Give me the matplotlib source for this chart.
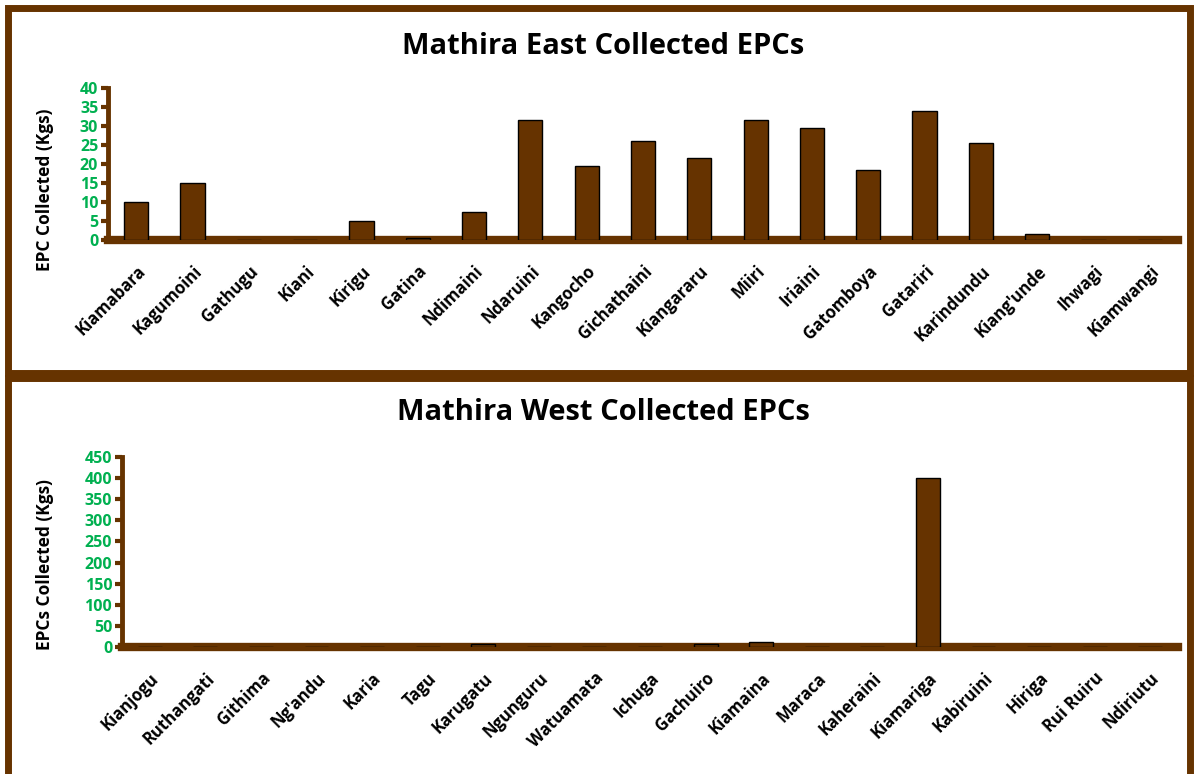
import matplotlib
matplotlib.use("Agg")
import matplotlib.pyplot as plt
from matplotlib.patches import Rectangle

east_wards = ["Kiamabara", "Kagumoini", "Gathugu", "Kiani", "Kirigu", "Gatina",
              "Ndimaini", "Ndaruini", "Kangocho", "Gichathaini", "Kiangararu",
              "Miiri", "Iriaini", "Gatomboya", "Gatariri", "Karindundu",
              "Kiang'unde", "Ihwagi", "Kiamwangi"]
east_kgs = [10, 15, 0, 0, 5, 0.5, 7.5, 31.5, 19.5, 26, 21.5, 31.5, 29.5, 18.5,
            34, 25.5, 1.5, 0, 0]

west_wards = ["Kianjogu", "Ruthangati", "Githima", "Ng'andu", "Karia", "Tagu",
              "Karugatu", "Ngunguru", "Watuamata", "Ichuga", "Gachuiro",
              "Kiamaina", "Maraca", "Kaheraini", "Kiamariga", "Kabiruini",
              "Hiriga", "Rui Ruiru", "Ndiriutu"]
west_kgs = [0, 0, 0, 0, 0, 0, 6, 0, 0, 0, 6, 12, 0, 0, 400, 0, 0, 0, 0]

east_yticks = list(range(0, 45, 5))
west_yticks = list(range(0, 500, 50))

BROWN = "#663300"
GREEN = "#00B050"
FONT = ["Open Sans", "DejaVu Sans"]

W, H = 1194, 774
fig = plt.figure(figsize=(W / 100, H / 100), dpi=100)
fig.patch.set_facecolor("white")


def px_axes(left, top, right, bottom):
    return fig.add_axes([left / W, 1 - bottom / H, (right - left) / W, (bottom - top) / H])


# panel frames
for (x0, y0, x1, y1) in [(8, 8, 1190, 373), (8, 378, 1190, 780)]:
    fig.patches.append(Rectangle((x0 / W, 1 - y1 / H), (x1 - x0) / W, (y1 - y0) / H,
                                 transform=fig.transFigure, fill=False,
                                 edgecolor=BROWN, linewidth=5, zorder=0))


def draw_panel(ax, names, values, ticks, title, ylabel, title_y, ylabel_y):
    x = range(len(names))
    ax.bar(x, values, width=0.43, color=BROWN, edgecolor="black", linewidth=1.0, zorder=3)
    ax.set_xlim(-0.5, len(names) - 0.5)
    ax.set_ylim(0, ticks[-1])
    ax.set_yticks(ticks)
    ax.set_yticklabels([str(t) for t in ticks], color=GREEN, fontweight="bold",
                       fontsize=11.5, family=FONT)
    ax.set_xticks(list(x))
    ax.set_xticklabels(names, rotation=45, ha="right", rotation_mode="anchor",
                       fontweight="bold", fontsize=12, family=FONT)
    ax.tick_params(axis="x", length=0, pad=16)
    ax.tick_params(axis="y", length=5, width=3, color=BROWN, pad=2)
    for s in ("top", "right"):
        ax.spines[s].set_visible(False)
    ax.spines["left"].set_color(BROWN)
    ax.spines["left"].set_linewidth(3.5)
    ax.spines["bottom"].set_color(BROWN)
    ax.spines["bottom"].set_linewidth(6)
    ax.patch.set_alpha(0)
    fig.text(0.505, 1 - title_y / H, title, ha="center", va="center",
             fontsize=21, fontweight="bold", family=FONT)
    fig.text(45 / W, 1 - ylabel_y / H, ylabel, ha="center", va="center",
             rotation=90, fontsize=12.5, fontweight="bold", family=FONT)


ax1 = px_axes(108, 88, 1178, 240)
draw_panel(ax1, east_wards, east_kgs, east_yticks, "Mathira East Collected EPCs",
           "EPC Collected (Kgs)", 47, 190)

ax2 = px_axes(122, 457, 1178, 647)
draw_panel(ax2, west_wards, west_kgs, west_yticks, "Mathira West Collected EPCs",
           "EPCs Collected (Kgs)", 413, 565)

fig.savefig("out.png", dpi=100)
